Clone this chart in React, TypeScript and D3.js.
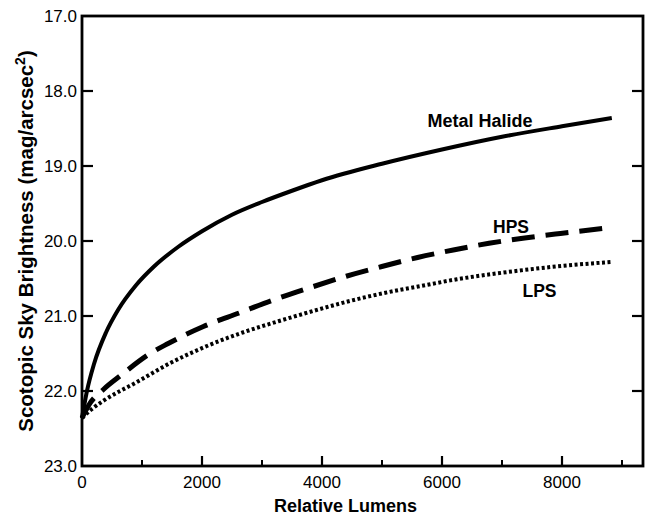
import React from "react";
import * as d3 from "d3";

const W = 649;
const H = 515;

// Relative lumens vs scotopic sky brightness (mag/arcsec^2)
const mhLumens = [0, 80, 200, 400, 600, 900, 1200, 1600, 2000, 2500, 3000, 3500, 4000, 5000, 6000, 7000, 8000, 8830];
const mhValues = [22.36, 22.01, 21.64, 21.22, 20.92, 20.59, 20.34, 20.08, 19.87, 19.65, 19.48, 19.33, 19.19, 18.97, 18.78, 18.61, 18.47, 18.36];

const hpsLumens = [0, 120, 357, 650, 1117, 1428, 2023, 2618, 3213, 3808, 4403, 4998, 5593, 6188, 6783, 7378, 7973, 8830];
const hpsValues = [22.36, 22.18, 21.98, 21.79, 21.51, 21.37, 21.14, 20.96, 20.78, 20.62, 20.47, 20.34, 20.22, 20.12, 20.03, 19.96, 19.9, 19.82];

const lpsLumens = [0, 150, 357, 893, 1488, 2083, 2678, 3273, 3868, 4463, 5058, 5653, 6248, 6843, 7438, 8033, 8830];
const lpsValues = [22.36, 22.25, 22.13, 21.89, 21.62, 21.4, 21.22, 21.07, 20.93, 20.8, 20.69, 20.6, 20.51, 20.44, 20.38, 20.33, 20.28];

const xMajorTicks = [0, 2000, 4000, 6000, 8000];
const xMinorTicks = [1000, 3000, 5000, 7000, 9000];
const yTicks = [17, 18, 19, 20, 21, 22, 23];

const FONT = "'Liberation Sans', Arial, Helvetica, sans-serif";

export default function App() {
  const left = 82, right = 643, top = 16, bottom = 466;
  const x = d3.scaleLinear().domain([0, 9350]).range([left, right]);
  const y = d3.scaleLinear().domain([17, 23]).range([top, bottom]);

  const line = d3
    .line<[number, number]>()
    .x((d) => x(d[0]))
    .y((d) => y(d[1]))
    .curve(d3.curveMonotoneX);

  const mh = line(mhLumens.map((l, i) => [l, mhValues[i]] as [number, number])) || "";
  const hps = line(hpsLumens.map((l, i) => [l, hpsValues[i]] as [number, number])) || "";
  const lps = line(lpsLumens.map((l, i) => [l, lpsValues[i]] as [number, number])) || "";

  return (
    <svg
      width={W}
      height={H}
      style={{ position: "absolute", left: 0, top: 0, background: "#fff" }}
      fontFamily={FONT}
    >
      <rect x={0} y={0} width={W} height={H} fill="#fff" />
      {/* curves */}
      <path d={lps} fill="none" stroke="#000" strokeWidth={4} strokeDasharray="3 2.5" />
      <path d={hps} fill="none" stroke="#000" strokeWidth={5} strokeDasharray="23 11" />
      <path d={mh} fill="none" stroke="#000" strokeWidth={4} />

      {/* frame */}
      <rect x={left} y={top} width={right - left} height={bottom - top} fill="none" stroke="#000" strokeWidth={2.8} />

      {/* y ticks */}
      {yTicks.map((t) => (
        <g key={"y" + t}>
          {t !== 17 && t !== 23 && (
            <>
              <line x1={left} x2={left + 11} y1={y(t)} y2={y(t)} stroke="#000" strokeWidth={2.2} />
              <line x1={right - 11} x2={right} y1={y(t)} y2={y(t)} stroke="#000" strokeWidth={2.2} />
            </>
          )}
          <text x={left - 5} y={y(t)} dy="0.36em" textAnchor="end" fontSize={17}>
            {t.toFixed(1)}
          </text>
        </g>
      ))}

      {/* x ticks */}
      {xMajorTicks.map((t) => (
        <g key={"x" + t}>
          {t !== 0 && <line x1={x(t)} x2={x(t)} y1={bottom} y2={bottom - 10} stroke="#000" strokeWidth={2.2} />}
          <text x={x(t)} y={bottom + 22} textAnchor="middle" fontSize={17}>
            {t}
          </text>
        </g>
      ))}
      {xMinorTicks.map((t) => (
        <line key={"m" + t} x1={x(t)} x2={x(t)} y1={bottom} y2={bottom - 6} stroke="#000" strokeWidth={2} />
      ))}

      {/* axis titles */}
      <text x={(left + right) / 2 - 17} y={512} textAnchor="middle" fontSize={18} fontWeight="bold">
        Relative Lumens
      </text>
      <text
        transform={`translate(33, ${(top + bottom) / 2}) rotate(-90)`}
        textAnchor="middle"
        fontSize={20.5}
        fontWeight="bold"
      >
        Scotopic Sky Brightness (mag/arcsec
        <tspan dy={-8} fontSize={14}>2</tspan>
        <tspan dy={8}>)</tspan>
      </text>

      {/* series labels */}
      <text x={480} y={127} textAnchor="middle" fontSize={18} fontWeight="bold">
        Metal Halide
      </text>
      <text x={511} y={233} textAnchor="middle" fontSize={17.5} fontWeight="bold">
        HPS
      </text>
      <text x={539.5} y={297} textAnchor="middle" fontSize={17.5} fontWeight="bold">
        LPS
      </text>
    </svg>
  );
}
